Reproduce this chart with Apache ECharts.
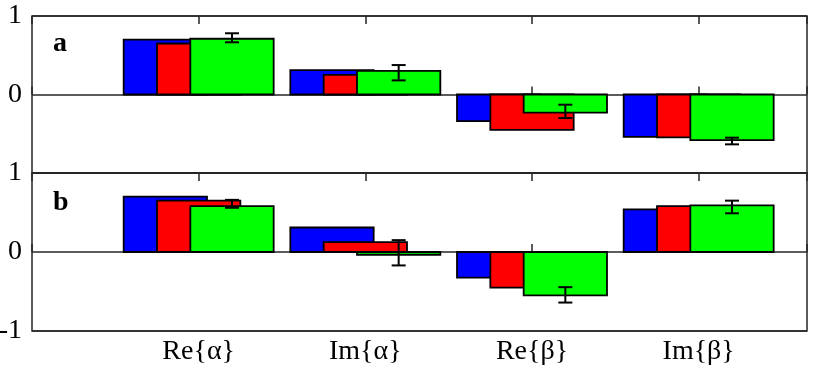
<!DOCTYPE html>
<html>
<head>
<meta charset="utf-8">
<script src="https://cdn.jsdelivr.net/npm/echarts@6/dist/echarts.min.js"></script>
<style>
  html, body { margin: 0; padding: 0; background: #fff; }
  #chart { width: 817px; height: 374px; }
</style>
</head>
<body>
<div id="chart"></div>
<script>
// categories and tick labels
var categories = ['Re{α}', 'Im{α}', 'Re{β}', 'Im{β}'];
var yTicksA = { '-1': '', '0': '0', '1': '1' };
var yTicksB = { '-1': '-1', '0': '0', '1': '1' };

// panel a
var blueA = [0.70, 0.31, -0.34, -0.54];
var redA = [0.65, 0.25, -0.45, -0.545];
var greenA = [0.71, 0.30, -0.23, -0.58];
var errLowA = [0.665, 0.18, -0.30, -0.635];
var errHighA = [0.78, 0.375, -0.13, -0.55];

// panel b
var blueB = [0.70, 0.31, -0.325, 0.54];
var redB = [0.65, 0.125, -0.45, 0.58];
var greenB = [0.58, -0.035, -0.55, 0.59];
var errLowB = [0.56, -0.17, -0.64, 0.49];
var errHighB = [0.66, 0.15, -0.445, 0.65];

var font = '"Liberation Serif", "Times New Roman", serif';
var frame = '#262626';

function barSeries(values, color, offset, axis) {
    return {
        type: 'custom',
        xAxisIndex: axis,
        yAxisIndex: axis,
        data: values.map(function (v, i) { return [i + 1, v]; }),
        renderItem: function (params, api) {
            var x = api.value(0) + offset;
            var p0 = api.coord([x - 0.25, 0]);
            var p1 = api.coord([x + 0.25, api.value(1)]);
            return {
                type: 'rect',
                shape: {
                    x: p0[0],
                    y: Math.min(p0[1], p1[1]),
                    width: p1[0] - p0[0],
                    height: Math.abs(p1[1] - p0[1])
                },
                style: { fill: color, stroke: '#000', lineWidth: 1.8 }
            };
        }
    };
}

function errSeries(low, high, axis) {
    return {
        type: 'custom',
        xAxisIndex: axis,
        yAxisIndex: axis,
        z: 5,
        data: low.map(function (v, i) { return [i + 1, v, high[i]]; }),
        renderItem: function (params, api) {
            var x = api.value(0) + 0.2;
            var lo = api.coord([x, api.value(1)]);
            var hi = api.coord([x, api.value(2)]);
            var st = { stroke: '#000', lineWidth: 2 };
            return {
                type: 'group',
                children: [
                    { type: 'line', shape: { x1: lo[0], y1: lo[1], x2: hi[0], y2: hi[1] }, style: st },
                    { type: 'line', shape: { x1: lo[0] - 7, y1: lo[1], x2: lo[0] + 7, y2: lo[1] }, style: st },
                    { type: 'line', shape: { x1: hi[0] - 7, y1: hi[1], x2: hi[0] + 7, y2: hi[1] }, style: st }
                ]
            };
        }
    };
}

function xAxis(grid, pos, labels) {
    return {
        type: 'value',
        gridIndex: grid,
        position: pos,
        min: 0,
        max: 4.65,
        interval: 1,
        axisLine: { show: false },
        axisTick: { show: true, inside: true, length: 8, lineStyle: { color: frame, width: 1.5 } },
        splitLine: { show: false },
        axisLabel: labels ? {
            show: true,
            margin: 7,
            color: '#000',
            fontFamily: font,
            fontSize: 28,
            formatter: function (v) { return categories[v - 1] || ''; }
        } : { show: false }
    };
}

function yAxis(grid, ticks) {
    return {
        type: 'value',
        gridIndex: grid,
        min: -1,
        max: 1,
        interval: 1,
        axisLine: { show: false },
        axisTick: { show: false },
        splitLine: { show: true, lineStyle: { color: frame, width: 1.5 } },
        axisLabel: {
            margin: 10,
            color: '#000',
            fontFamily: font,
            fontSize: 28,
            formatter: function (v) { return ticks[String(v)]; }
        }
    };
}

var myChart = echarts.init(document.getElementById('chart'));

var option = {
    animation: false,
    grid: [
        { left: 32, top: 16, width: 775, height: 157, show: true, borderColor: frame, borderWidth: 1.5, outerBoundsMode: 'none' },
        { left: 32, top: 173, width: 775, height: 158, show: true, borderColor: frame, borderWidth: 1.5, outerBoundsMode: 'none' }
    ],
    xAxis: [
        xAxis(0, 'bottom', false),
        xAxis(1, 'bottom', true),
        xAxis(0, 'top', false),
        xAxis(1, 'top', false)
    ],
    yAxis: [yAxis(0, yTicksA), yAxis(1, yTicksB)],
    graphic: [
        { type: 'text', left: 53, top: 30, style: { text: 'a', font: 'bold 28px ' + font, fill: '#000' } },
        { type: 'text', left: 53, top: 189, style: { text: 'b', font: 'bold 28px ' + font, fill: '#000' } }
    ],
    series: [
        barSeries(blueA, '#0000ff', -0.2, 0),
        barSeries(redA, '#ff0000', 0, 0),
        barSeries(greenA, '#00ff00', 0.2, 0),
        errSeries(errLowA, errHighA, 0),
        barSeries(blueB, '#0000ff', -0.2, 1),
        barSeries(redB, '#ff0000', 0, 1),
        barSeries(greenB, '#00ff00', 0.2, 1),
        errSeries(errLowB, errHighB, 1)
    ]
};

myChart.setOption(option);
</script>
</body>
</html>
